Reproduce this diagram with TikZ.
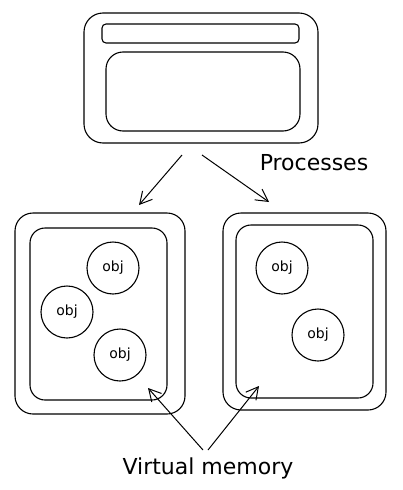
\documentclass[tikz,border=0pt]{standalone}
\usepackage{fontspec}
\setmainfont{DejaVu Sans}
\usetikzlibrary{positioning, arrows.meta}

\begin{document}
\begin{tikzpicture}[x=1pt, y=-1pt,
     line width=1.1pt,
        win/.style = {rectangle, draw, rounded corners=19pt, inner sep=0pt, outer sep=0pt},
        bar/.style = {rectangle, draw, rounded corners=4pt, inner sep=0pt, outer sep=0pt},
         vm/.style = {rectangle, draw, rounded corners=18pt, inner sep=0pt, outer sep=0pt},
        obj/.style = {circle, draw, minimum size=52pt, inner sep=0pt, font=\fontsize{14}{16}\selectfont},
        lbl/.style = {font=\fontsize{22}{26}\selectfont},
        arr/.style = {-{Straight Barb[length=12pt, width=13pt]}, line width=1pt}
                        ]
\useasboundingbox (0,0) rectangle (402,490);
% process window
\node (win)  [win, minimum width=234pt, minimum height=130pt] at (201,78) {};
\node (bar)  [bar, minimum width=197pt, minimum height=19pt] at (200.5,33.5) {};
\node (pane) [win, rounded corners=17pt, minimum width=194pt, minimum height=79pt] at (203,91.5) {};
\node (procs) [lbl] at (314,163) {Processes};
% virtual memory boxes
\node (vmL)  [vm, minimum width=170pt, minimum height=201pt] at (100,313.5) {};
\node (vmLi) [vm, rounded corners=15pt, minimum width=137pt, minimum height=172pt] at (98.5,314) {};
\node (vmR)  [vm, minimum width=163pt, minimum height=197pt] at (304.5,311.5) {};
\node (vmRi) [vm, rounded corners=15pt, minimum width=137pt, minimum height=173pt] at (304.5,311.5) {};
% objects
\node (o1) [obj] at (113,268) {obj};
\node (o2) [obj] at (67,312)  {obj};
\node (o3) [obj] at (120,355) {obj};
\node (o4) [obj] at (282,268) {obj};
\node (o5) [obj] at (318,335) {obj};
\node (vmem) [lbl] at (208,468) {Virtual memory};
% arrow ends
\coordinate (pL) at (182,155);
\coordinate (pR) at (202,155);
\coordinate (tL) at (139,205);
\coordinate (tR) at (269,202);
\coordinate (mL) at (203,450);
\coordinate (mR) at (208,450);
\coordinate (hL) at (148,388);
\coordinate (hR) at (259,386);
\draw[arr] (pL) to (tL);
\draw[arr] (pR) to (tR);
\draw[arr] (mL) to (hL);
\draw[arr] (mR) to (hR);
\end{tikzpicture}
\end{document}
